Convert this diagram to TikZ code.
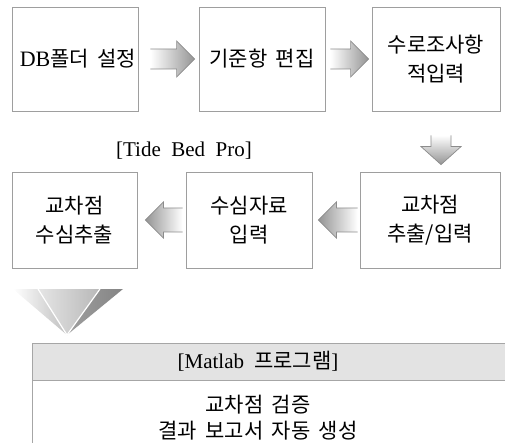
\documentclass[tikz,border=0pt]{standalone}
\usepackage{fontspec}
\setmainfont{Liberation Serif}
\newfontfamily\kr[WordSpace=1.8]{Noto Sans CJK KR}
\usetikzlibrary{calc}
\newcommand\RArrowPath[2]{($(#1)+(0,-10)$) -- ($(#2)+(-18,-10)$) -- ($(#2)+(-18,-18)$) -- (#2) -- ($(#2)+(-18,18)$) -- ($(#2)+(-18,10)$) -- ($(#1)+(0,10)$)}
\newcommand\LArrowPath[2]{($(#1)+(0,-12)$) -- ($(#2)+(18,-12)$) -- ($(#2)+(18,-18)$) -- (#2) -- ($(#2)+(18,18)$) -- ($(#2)+(18,12)$) -- ($(#1)+(0,12)$)}
\newcommand\DArrowPath[2]{($(#1)+(-10,0)$) -- ($(#2)+(-10,-18)$) -- ($(#2)+(-20,-18)$) -- (#2) -- ($(#2)+(20,-18)$) -- ($(#2)+(10,-18)$) -- ($(#1)+(10,0)$)}
\begin{document}
\begin{tikzpicture}[x=1pt,y=-1pt,
  box/.style={draw=black!38, line width=0.8pt, align=center, inner sep=0pt,
    font=\fontsize{21}{29}\kr},
  arrowline/.style={draw=black!45, line width=0.7pt, line join=miter},
  tableline/.style={draw=black!35, line width=0.8pt},
  label/.style={inner sep=0pt, align=center, font=\fontsize{21}{26}\kr}]
\useasboundingbox (0,0) rectangle (505,443);
% top row
\node[box, minimum width=126pt, minimum height=104pt] (b1) at (75,59) {\hspace{6pt}{\rmfamily\fontsize{22}{29}\selectfont DB}폴더 설정};
\node[box, minimum width=126pt, minimum height=104pt] (b2) at (262,59) {기준항 편집};
\node[box, minimum width=128pt, minimum height=104pt] (b3) at (436,59) {수로조사항\\적입력};
% second row
\node[box, minimum width=125pt, minimum height=96pt] (c1) at (74.5,220) {교차점\\수심추출};
\node[box, minimum width=126pt, minimum height=96pt] (c2) at (249,220) {수심자료\\입력};
\node[box, minimum width=140pt, minimum height=96pt] (c3) at (430,220) {교차점\\추출/입력};
\node[label, font=\fontsize{21}{24}\rmfamily] (tbp) at (184,151) {[Tide\ \ Bed\ \ Pro]};
% arrows
\coordinate (r1t) at ($(b1.east)+(12,0)$);
\coordinate (r1p) at ($(b2.west)+(-4,0)$);
\shade[left color=white, right color=black!42] \RArrowPath{r1t}{r1p} -- cycle;
\draw[arrowline] \RArrowPath{r1t}{r1p};
\coordinate (r2t) at ($(b2.east)+(5,0)$);
\coordinate (r2p) at ($(b3.west)+(-3,0)$);
\shade[left color=white, right color=black!42] \RArrowPath{r2t}{r2p} -- cycle;
\draw[arrowline] \RArrowPath{r2t}{r2p};
\coordinate (dt) at ($(b3.south)+(5,24)$);
\coordinate (dp) at ($(c3.north)+(11,-7)$);
\shade[top color=white, bottom color=black!42] \DArrowPath{dt}{dp} -- cycle;
\draw[arrowline] \DArrowPath{dt}{dp};
\coordinate (l2t) at ($(c3.west)+(-2,0)$);
\coordinate (l2p) at ($(c2.east)+(6,0)$);
\shade[left color=black!42, right color=white] \LArrowPath{l2t}{l2p} -- cycle;
\draw[arrowline] \LArrowPath{l2t}{l2p};
\coordinate (l1t) at ($(c2.west)+(-3,0)$);
\coordinate (l1p) at ($(c1.east)+(8,0)$);
\shade[left color=black!42, right color=white] \LArrowPath{l1t}{l1p} -- cycle;
\draw[arrowline] \LArrowPath{l1t}{l1p};
% big chevron
\coordinate (tA) at (13,289);
\coordinate (tB) at (38,289);
\coordinate (tC) at (100,289);
\coordinate (tD) at (123,289);
\coordinate (tP) at (67,335);
\shade[left color=white, right color=black!25] (tA) -- (tB) -- (tP) -- cycle;
\shade[left color=black!10, right color=black!28] (tB) -- (tC) -- (tP) -- cycle;
\shade[left color=black!38, right color=black!48] (tC) -- (tD) -- (tP) -- cycle;
\draw[white, line width=1.2pt] (tB) -- (tP) (tC) -- (tP);
% table
\fill[black!11] (32,343) rectangle (515,380);
\draw[tableline] (515,343) -- (32,343) -- (32,460);
\draw[tableline] (32,380) -- (515,380);
\node[label, font=\fontsize{21}{24}\rmfamily] (hdr) at (258,361.5) {[Matlab\hspace{10pt}{\kr 프로그램}]};
\node[label] (body) at (258,418) {교차점 검증\\결과 보고서 자동 생성};
\end{tikzpicture}
\end{document}
